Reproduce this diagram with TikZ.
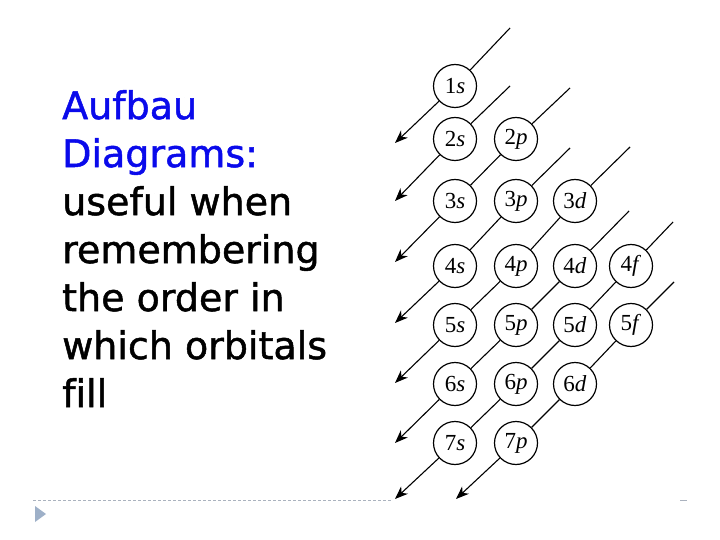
\documentclass[tikz,border=0pt]{standalone}
\usepackage{fontspec}
\setmainfont[Ligatures=NoCommon, FakeBold=1.3]{DejaVu Sans}
\newfontfamily\orbfont{Liberation Serif}
\usetikzlibrary{arrows.meta}
\definecolor{titleblue}{RGB}{10,10,235}
\definecolor{rulegray}{RGB}{170,178,190}
\definecolor{bulletblue}{RGB}{158,176,200}
\begin{document}
\begin{tikzpicture}[x=1pt,y=-1pt,
  orb/.style={draw, circle, line width=1.2pt, minimum size=43pt, inner sep=0pt,
    font=\orbfont\fontsize{23}{23}\selectfont},
  diag/.style={line width=1.1pt},
  diagarr/.style={line width=1.1pt, -{Stealth[length=13pt,width=10pt,inset=4pt]}},
  bodytext/.style={anchor=north west, inner sep=0pt, align=left,
    font=\fontsize{38}{48}\selectfont}
]
\useasboundingbox (0,0) rectangle (720,540);
\fill[white] (0,0) rectangle (720,540);

% text
\node[bodytext] (txt) at (62,90) {\textcolor{titleblue}{Aufbau}\\
\textcolor{titleblue}{Diagrams:}\\
useful when\\
remembering\\
the order in\\
which orbitals\\
fill};

% footer rule and bullet
\draw[rulegray, line width=0.8pt, dash pattern=on 3pt off 2pt] (33,500) -- (392,500);
\draw[rulegray, line width=0.8pt] (680,500) -- (687,500);
\fill[bulletblue] (35,506) -- (46,514) -- (35,522) -- cycle;

% orbitals
\node[orb] (o1s) at (455,86) {1\textit{s}};
\node[orb] (o2s) at (455,139) {2\textit{s}};
\node[orb] (o2p) at (516,139) {2\textit{p}};
\node[orb] (o3s) at (455,201) {3\textit{s}};
\node[orb] (o3p) at (516,201) {3\textit{p}};
\node[orb] (o3d) at (575,201) {3\textit{d}};
\node[orb] (o4s) at (455,266) {4\textit{s}};
\node[orb] (o4p) at (516,266) {4\textit{p}};
\node[orb] (o4d) at (575,266) {4\textit{d}};
\node[orb] (o4f) at (631,266) {4\textit{f}};
\node[orb] (o5s) at (455,325) {5\textit{s}};
\node[orb] (o5p) at (516,325) {5\textit{p}};
\node[orb] (o5d) at (575,325) {5\textit{d}};
\node[orb] (o5f) at (631,325) {5\textit{f}};
\node[orb] (o6s) at (455,384) {6\textit{s}};
\node[orb] (o6p) at (516,384) {6\textit{p}};
\node[orb] (o6d) at (575,384) {6\textit{d}};
\node[orb] (o7s) at (455,443) {7\textit{s}};
\node[orb] (o7p) at (516,443) {7\textit{p}};

% diagonal start and end points
\coordinate (t1) at (510,28);  \coordinate (a1) at (395,143);
\coordinate (t2) at (510,86);  \coordinate (a2) at (395,201);
\coordinate (t3) at (570,88);  \coordinate (a3) at (395,262);
\coordinate (t4) at (570,148); \coordinate (a4) at (395,323);
\coordinate (t5) at (630,147); \coordinate (a5) at (395,383);
\coordinate (t6) at (629,211); \coordinate (a6) at (395,443);
\coordinate (t7) at (673,222); \coordinate (a7) at (395,499);
\coordinate (t8) at (674,282); \coordinate (a8) at (456,499);

% diagonals
\draw[diag] (t1) -- (o1s);
\draw[diagarr] (o1s) -- (a1);
\draw[diag] (t2) -- (o2s);
\draw[diagarr] (o2s) -- (a2);
\draw[diag] (t3) -- (o2p) -- (o3s);
\draw[diagarr] (o3s) -- (a3);
\draw[diag] (t4) -- (o3p) -- (o4s);
\draw[diagarr] (o4s) -- (a4);
\draw[diag] (t5) -- (o3d) -- (o4p) -- (o5s);
\draw[diagarr] (o5s) -- (a5);
\draw[diag] (t6) -- (o4d) -- (o5p) -- (o6s);
\draw[diagarr] (o6s) -- (a6);
\draw[diag] (t7) -- (o4f) -- (o5d) -- (o6p) -- (o7s);
\draw[diagarr] (o7s) -- (a7);
\draw[diag] (t8) -- (o5f) -- (o6d) -- (o7p);
\draw[diagarr] (o7p) -- (a8);
\end{tikzpicture}
\end{document}
